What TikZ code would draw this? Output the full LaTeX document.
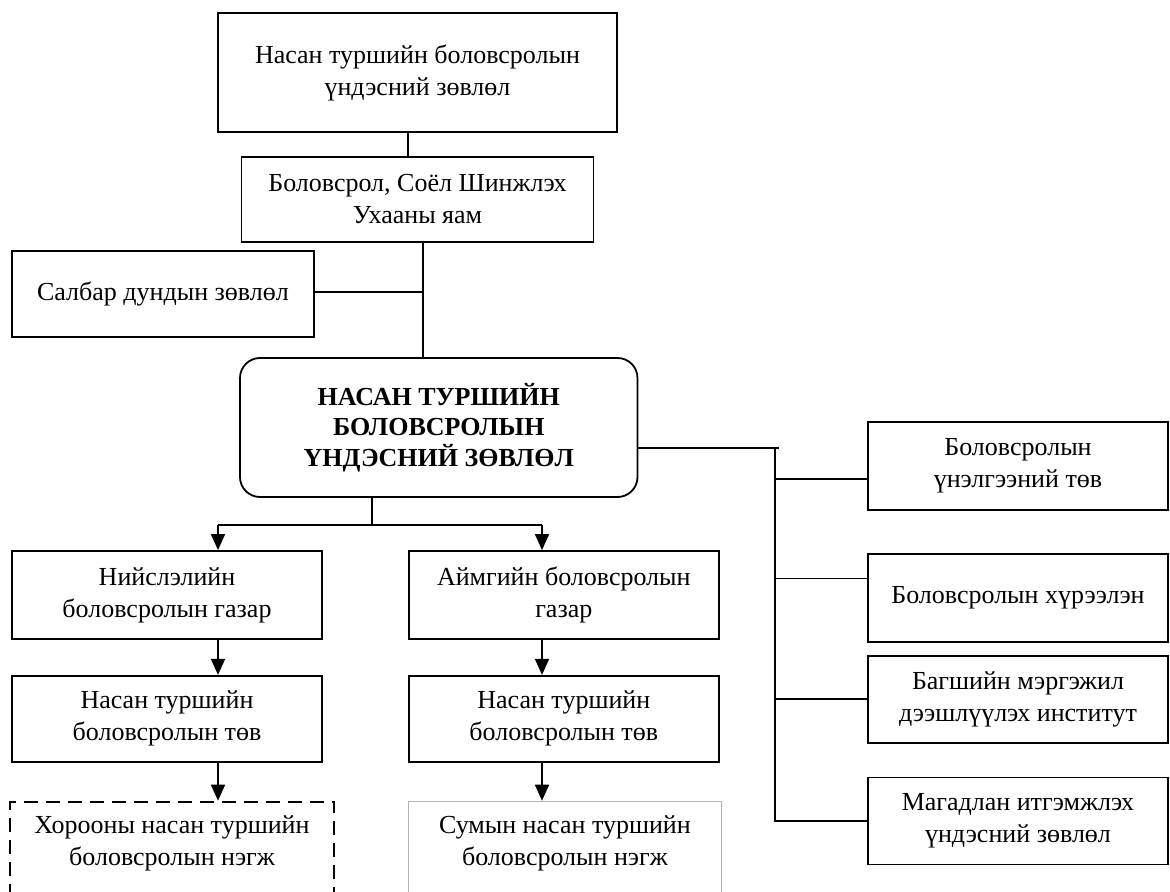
\documentclass[tikz,border=0pt]{standalone}
\usepackage{fontspec}
\setmainfont{Liberation Serif}
\usetikzlibrary{arrows.meta,positioning}

\begin{document}
\begin{tikzpicture}[
  x=0.5pt, y=-0.5pt,
  font=\fontsize{13}{16}\selectfont,
  node distance=6pt and 42.5pt,
  unit/.style={draw, line width=0.9pt, align=center, inner sep=2pt},
  council/.style={unit, rounded corners=10pt, font=\fontsize{13}{15.25}\selectfont\bfseries, minimum width=198.75pt, minimum height=69.5pt},
  office/.style={unit, minimum width=155pt, minimum height=44pt},
  centre/.style={unit, minimum width=155pt, minimum height=43pt},
  side/.style={unit, minimum width=150pt, minimum height=44pt},
  openunit/.style={unit, inner ysep=7pt, text depth=80pt},
  link/.style={line width=0.8pt},
  arr/.style={link, -{Triangle[length=8pt, width=7pt]}}
]
\useasboundingbox (0,0) rectangle (1170,892);
\clip (0,0) rectangle (1170,892);

% top of the chart
\node[unit, minimum width=199.5pt, minimum height=59.5pt] (nat) at (417.5,72.5) {Насан туршийн боловсролын\\үндэсний зөвлөл};
\node[unit, minimum width=176pt, minimum height=42.5pt, below=11.5pt of nat] (ministry) {Боловсрол, Соёл Шинжлэх\\Ухааны яам};
\node[unit, minimum width=151pt, minimum height=43pt] (salbar) at (163,294) {Салбар дундын зөвлөл};
\node[council] (main) at (438.75,427.5) {НАСАН ТУРШИЙН\\БОЛОВСРОЛЫН\\ҮНДЭСНИЙ ЗӨВЛӨЛ};

% local branches
\node[office] (capital) at (167,595) {Нийслэлийн\\боловсролын газар};
\node[office, right=of capital] (aimag) {Аймгийн боловсролын\\газар};
\node[centre, below=17.5pt of capital] (centreL) {Насан туршийн\\боловсролын төв};
\node[centre, below=17.5pt of aimag] (centreR) {Насан туршийн\\боловсролын төв};
\node[openunit, dash pattern=on 7pt off 4pt, minimum width=162pt, below=19pt of centreL.south west, anchor=north west, xshift=-1pt] (khoroo) {Хорооны насан туршийн\\боловсролын нэгж};
\node[openunit, draw=gray!60, line width=0.5pt, minimum width=156.5pt, below=19pt of centreR.south west, anchor=north west] (sum) {Сумын насан туршийн\\боловсролын нэгж};

% attached bodies
\node[side] (assess) at (1018,466) {Боловсролын\\үнэлгээний төв};
\node[side, below=21pt of assess] (inst) {Боловсролын хүрээлэн};
\node[side, minimum height=43.5pt, below=6pt of inst] (teacher) {Багшийн мэргэжил\\дээшлүүлэх институт};
\node[side, minimum height=43.5pt, below=16.5pt of teacher] (accred) {Магадлан итгэмжлэх\\үндэсний зөвлөл};

\coordinate (upper) at (408,132);
\coordinate (spine) at (423,292);
\coordinate (colL) at (218,525);
\coordinate (colR) at (542,525);
\coordinate (split) at (372,525);
\coordinate (bus) at (775,448);

\draw[link] (upper |- nat.south) -- (upper |- ministry.north);
\draw[link] (ministry.south -| spine) -- (main.north -| spine);
\draw[link] (salbar.east |- spine) -- (spine);
\draw[link] (main.south -| split) -- (split);
\draw[link] (colL) -- (colR);
\draw[arr] (colL) -- (colL |- capital.north);
\draw[arr] (colR) -- (colR |- aimag.north);
\draw[arr] (colL |- capital.south) -- (colL |- centreL.north);
\draw[arr] (colR |- aimag.south) -- (colR |- centreR.north);
\draw[arr] (colL |- centreL.south) -- (colL |- khoroo.north);
\draw[arr] (colR |- centreR.south) -- (colR |- sum.north);

\draw[link] (main.east |- bus) -- ([xshift=2pt]bus);
\draw[link] (bus) -- (bus |- accred.west) -- (accred.west);
\draw[link] ([yshift=-6.5pt]assess.west) -| (bus);
\draw[link] ([yshift=9.75pt]inst.west) -| (bus);
\draw[link] (teacher.west) -| (bus);
\end{tikzpicture}
\end{document}
